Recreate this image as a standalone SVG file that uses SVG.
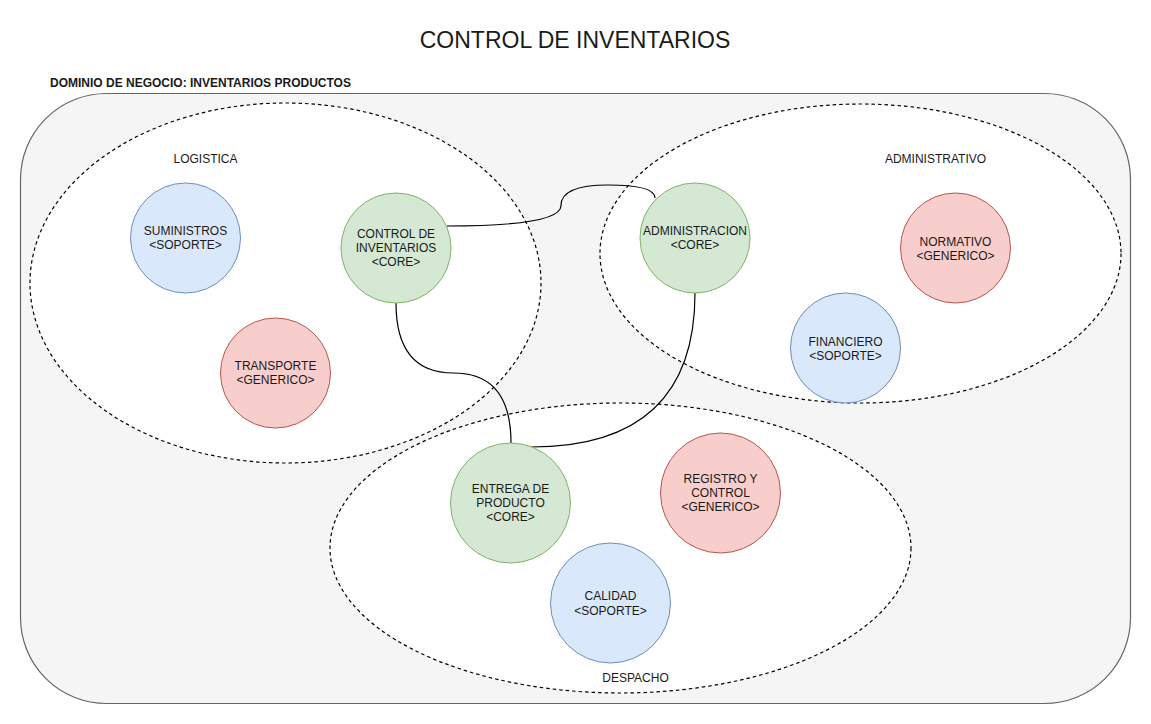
<svg xmlns="http://www.w3.org/2000/svg" width="1151" height="724" viewBox="0 0 1151 724">
<style>
text{font-family:"Liberation Sans",Arial,Helvetica,sans-serif;font-size:12px;fill:#1a1a1a;text-anchor:middle}
.title{font-size:23px}
.dom{font-weight:bold;text-anchor:start;font-size:12px}
.zone{fill:#ffffff;stroke:#000;stroke-width:1.2;stroke-dasharray:3.5 3}
.core{fill:#d5e8d4;stroke:#82b366;stroke-width:1}
.sop{fill:#dae8fc;stroke:#6c8ebf;stroke-width:1}
.gen{fill:#f8cecc;stroke:#b85450;stroke-width:1}
.edge{fill:none;stroke:#000;stroke-width:1.2}
</style>
<rect width="1151" height="724" fill="#ffffff"/>
<text class="title" x="575" y="47.5">CONTROL DE INVENTARIOS</text>
<g id="dominio">
<rect x="20.5" y="93.5" width="1110" height="610" rx="86" ry="86" fill="#f5f5f5" stroke="#666666" stroke-width="1.2"/>
<text class="dom" x="50" y="87">DOMINIO DE NEGOCIO: INVENTARIOS PRODUCTOS</text>
</g>
<g id="logistica">
<ellipse class="zone" cx="285.5" cy="283" rx="255.5" ry="180"/>
<text x="205.5" y="163">LOGISTICA</text>
</g>
<g id="administrativo">
<ellipse class="zone" cx="860.5" cy="253.5" rx="260.5" ry="149.5"/>
<text x="935.5" y="163">ADMINISTRATIVO</text>
</g>
<g id="despacho">
<ellipse class="zone" cx="620.5" cy="548" rx="290.5" ry="145"/>
<text x="635.5" y="682">DESPACHO</text>
</g>
<g id="connectors">
<path class="edge" d="M447,226 Q561,226 561,205.5 Q561,185 608,185 Q655,185 655,198"/>
<path class="edge" d="M396,303 Q396,373 453.5,373 Q511,373 511,443"/>
<path class="edge" d="M695,293 Q695,447 531,447"/>
</g>
<g id="suministros">
<circle class="sop" cx="185.5" cy="238" r="55"/>
<text x="185.5" y="235.3">SUMINISTROS</text>
<text x="185.5" y="249.3">&lt;SOPORTE&gt;</text>
</g>
<g id="transporte">
<circle class="gen" cx="275.5" cy="373" r="55"/>
<text x="275.5" y="370.3">TRANSPORTE</text>
<text x="275.5" y="384.3">&lt;GENERICO&gt;</text>
</g>
<g id="control-inventarios">
<circle class="core" cx="396" cy="248" r="55"/>
<text x="396" y="238.3">CONTROL DE</text>
<text x="396" y="252.3">INVENTARIOS</text>
<text x="396" y="266.3">&lt;CORE&gt;</text>
</g>
<g id="administracion">
<circle class="core" cx="695" cy="238" r="55"/>
<text x="695" y="235.3">ADMINISTRACION</text>
<text x="695" y="249.3">&lt;CORE&gt;</text>
</g>
<g id="normativo">
<circle class="gen" cx="955.5" cy="248" r="55"/>
<text x="955.5" y="245.8">NORMATIVO</text>
<text x="955.5" y="259.8">&lt;GENERICO&gt;</text>
</g>
<g id="financiero">
<circle class="sop" cx="845.5" cy="348" r="55"/>
<text x="845.5" y="345.5">FINANCIERO</text>
<text x="845.5" y="359.5">&lt;SOPORTE&gt;</text>
</g>
<g id="entrega-producto">
<circle class="core" cx="510.5" cy="503" r="60"/>
<text x="510.5" y="493.3">ENTREGA DE</text>
<text x="510.5" y="507.3">PRODUCTO</text>
<text x="510.5" y="521.3">&lt;CORE&gt;</text>
</g>
<g id="registro-control">
<circle class="gen" cx="720.5" cy="493" r="60"/>
<text x="720.5" y="483.3">REGISTRO Y</text>
<text x="720.5" y="497.3">CONTROL</text>
<text x="720.5" y="511.3">&lt;GENERICO&gt;</text>
</g>
<g id="calidad">
<circle class="sop" cx="610.5" cy="603" r="60"/>
<text x="610.5" y="600">CALIDAD</text>
<text x="610.5" y="614.5">&lt;SOPORTE&gt;</text>
</g>
</svg>
